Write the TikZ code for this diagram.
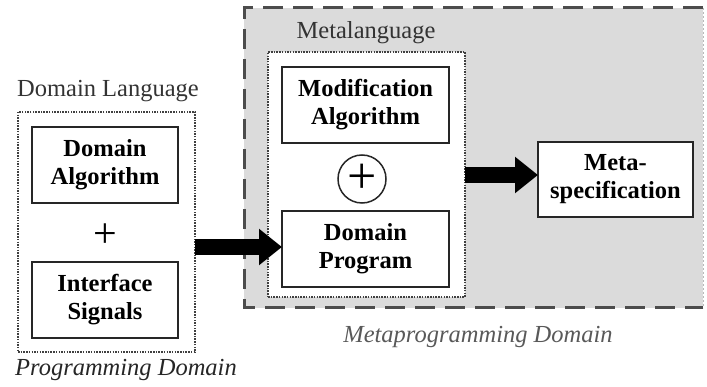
\documentclass[tikz,border=0pt]{standalone}
\usepackage{fontspec}
\setmainfont{Liberation Serif}
\usetikzlibrary{arrows.meta}
\tikzset{
  every node/.style={inner sep=0pt, outer sep=0pt},
  solidbox/.style={draw=black!85, line width=2pt, fill=white, align=center,
    font=\fontsize{24.5}{28}\selectfont\bfseries},
  dotbox/.style={draw=black!75, line width=1.6pt, dash pattern=on 1.5pt off 1.2pt, fill=white},
  dashline/.style={draw=black!70, line width=3pt, dash pattern=on 20pt off 10pt},
  greyarea/.style={fill=gray!28},
  lbl/.style={anchor=base, text=black!80, font=\fontsize{24.5}{28}\selectfont},
  itlbl/.style={anchor=base, font=\fontsize{24.5}{28}\selectfont\itshape},
  bigarrow/.style={line width=16pt, black, -{Triangle[length=23pt,width=35pt]}},
}
\begin{document}
\begin{tikzpicture}[x=1pt, y=-1pt]
\useasboundingbox (0,0) rectangle (707,387);
\clip (0,0) rectangle (707,387);

% Metaprogramming domain (grey, dashed)
\node[greyarea, minimum width=459pt, minimum height=300pt] (mpd) at (473.5,158) {};
\draw[dashline] (mpd.north east) -- (mpd.north west) -- (mpd.south west) -- (mpd.south east);
\draw[draw=gray!55, line width=1pt, dash pattern=on 2pt off 2pt] (mpd.north east) -- (mpd.south east);

% dotted groups
\node[dotbox, minimum width=177pt, minimum height=240pt] (lang) at (106.5,232) {};
\node[dotbox, minimum width=197pt, minimum height=245pt] (meta) at (366.5,174.5) {};

% labels
\node[lbl] (ldl) at (108,97) {Domain Language};
\node[lbl] (lml) at (366,39) {Metalanguage};
\node[itlbl, text=black!65] (lmpd) at (478,342) {Metaprogramming Domain};
\node[itlbl, text=black!85] (lpd) at (126,375) {Programming Domain};

% boxes
\node[solidbox, minimum width=146pt, minimum height=76pt] (da) at (105,165) {Domain\\Algorithm};
\node[solidbox, minimum width=146pt, minimum height=76pt] (is) at (105,300) {Interface\\Signals};
\node[font=\fontsize{42}{42}\selectfont] (plus) at (105,236) {+};

\node[solidbox, minimum width=167pt, minimum height=76pt] (ma) at (365.5,105) {Modification\\Algorithm};
\node[solidbox, minimum width=167pt, minimum height=76pt] (dp) at (365.5,249) {Domain\\Program};
\node[draw=black!85, line width=1.5pt, circle, minimum size=48pt,
      font=\fontsize{52}{52}\selectfont] (cplus) at (362,179) {+};

\node[solidbox, minimum width=155pt, minimum height=75pt] (ms) at (615.5,179.5) {Meta-\\specification};

% arrows
\draw[bigarrow] (lang.east |- 0,247) -- (dp.west |- 0,247);
\draw[bigarrow] (meta.east |- 0,175) -- (ms.west |- 0,175);
\end{tikzpicture}
\end{document}
